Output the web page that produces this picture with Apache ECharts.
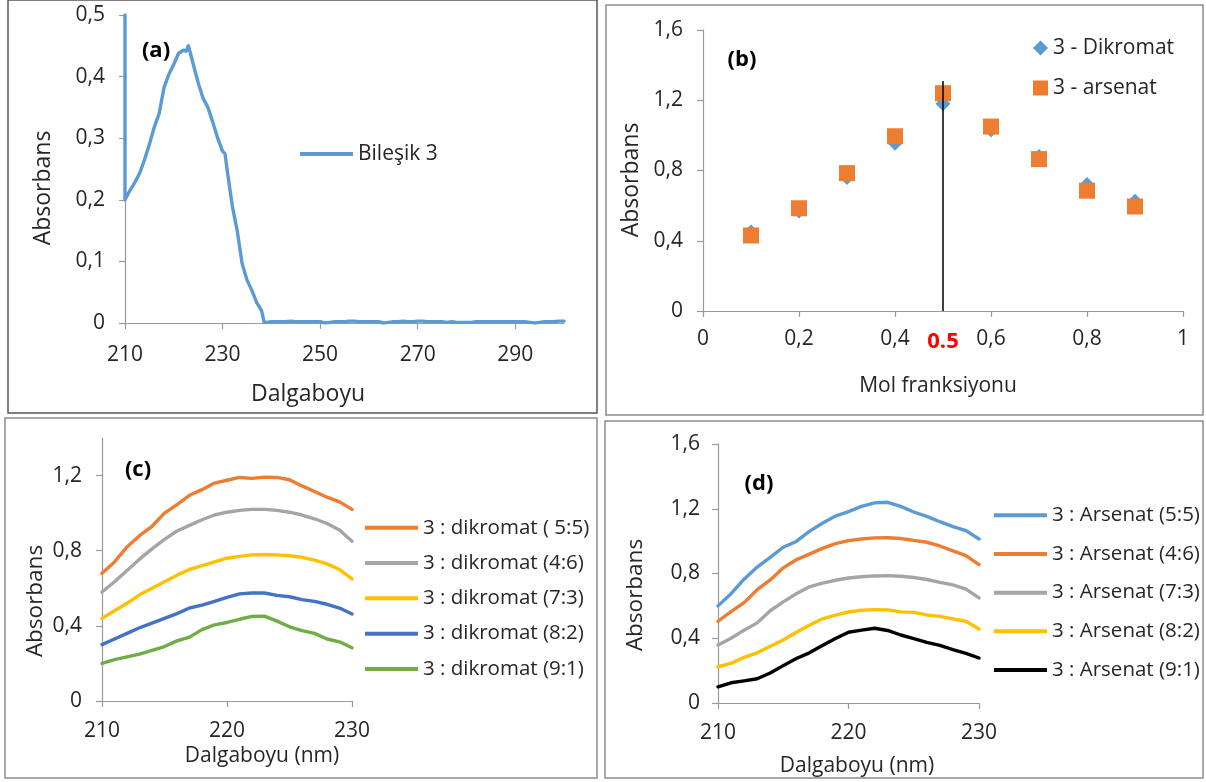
<!DOCTYPE html>
<html>
<head>
<meta charset="utf-8">
<script src="https://cdn.jsdelivr.net/npm/echarts@6/dist/echarts.min.js"></script>
<style>html,body{margin:0;padding:0;background:#fff;}#chart{width:1206px;height:782px;}</style>
</head>
<body>
<div id="chart"></div>
<script>
// ---------- DATA ----------
// Panel (a): spectrum of Bileşik 3
const waveA = [210,210,211,212,213,214,215,216,217,218,219,220,221,222,222.5,223,224,225,226,227,228,229,230,230.5,231,232,233,234,235,236,237,238,238.5,
  239,240,241,242,243,244,245,246,247,248,249,250,251,252,253,254,255,256,257,258,259,260,261,262,263,264,265,266,267,268,269,270,
  271,272,273,274,275,276,277,278,279,280,281,282,283,284,285,286,287,288,289,290,291,292,293,294,295,296,297,298,299,300];
const absA = [0.5,0.2,0.215,0.228,0.243,0.265,0.29,0.318,0.34,0.382,0.404,0.42,0.438,0.443,0.441,0.45,0.42,0.39,0.365,0.35,0.326,0.3,0.279,0.275,0.245,0.19,0.15,0.097,0.07,0.053,0.033,0.02,0.002,
  0.001,0.002,0.002,0.002,0.002,0.003,0.002,0.002,0.002,0.002,0.002,0.002,0.0,0.001,0.002,0.002,0.002,0.003,0.003,0.002,0.002,0.002,0.002,0.002,0.0,0.001,0.002,0.002,0.003,0.002,0.002,0.003,
  0.003,0.002,0.002,0.002,0.002,0.001,0.002,0.001,0.001,0.001,0.001,0.002,0.002,0.002,0.002,0.002,0.002,0.002,0.002,0.002,0.002,0.002,0.001,0.0,0.001,0.002,0.002,0.002,0.003,0.003];
const nameA = 'Bileşik 3';

// Panel (b): Job plot
const molFrac = [0.1,0.2,0.3,0.4,0.5,0.6,0.7,0.8,0.9];
const dikromatB = [0.45,0.57,0.76,0.955,1.18,1.03,0.88,0.72,0.625];
const arsenatB = [0.43,0.585,0.785,0.995,1.24,1.05,0.865,0.685,0.595];
const namesB = ['3 - Dikromat','3 - arsenat'];
const peakFrac = 0.5;
const peakLineTop = 1.31;

// Panels (c), (d): spectra 210-230 nm
const waveCD = [210,211,212,213,214,215,216,217,218,219,220,221,222,223,224,225,226,227,228,229,230];
const c55 = [0.68,0.74,0.82,0.88,0.93,1.0,1.045,1.095,1.125,1.16,1.175,1.19,1.185,1.192,1.19,1.178,1.145,1.115,1.085,1.06,1.02];
const c46 = [0.58,0.635,0.695,0.755,0.81,0.86,0.905,0.935,0.965,0.99,1.005,1.015,1.02,1.02,1.015,1.005,0.99,0.97,0.945,0.91,0.85];
const c73 = [0.44,0.48,0.52,0.565,0.6,0.635,0.67,0.7,0.72,0.74,0.76,0.77,0.778,0.78,0.778,0.773,0.765,0.75,0.73,0.7,0.65];
const c82 = [0.30,0.33,0.36,0.39,0.415,0.44,0.465,0.495,0.51,0.53,0.552,0.57,0.575,0.575,0.562,0.555,0.54,0.53,0.515,0.495,0.463];
const c91 = [0.20,0.22,0.235,0.25,0.27,0.29,0.32,0.34,0.38,0.405,0.418,0.435,0.45,0.452,0.425,0.395,0.375,0.36,0.33,0.315,0.283];
const namesC = ['3 : dikromat ( 5:5)','3 : dikromat (4:6)','3 : dikromat (7:3)','3 : dikromat (8:2)','3 : dikromat (9:1)'];

const d55 = [0.60,0.675,0.765,0.84,0.9,0.962,0.998,1.06,1.11,1.155,1.182,1.215,1.236,1.24,1.215,1.18,1.153,1.12,1.09,1.065,1.013];
const d46 = [0.505,0.565,0.62,0.7,0.76,0.835,0.885,0.92,0.955,0.985,1.003,1.013,1.02,1.021,1.016,1.005,0.993,0.97,0.94,0.91,0.855];
const d73 = [0.358,0.40,0.45,0.495,0.57,0.625,0.675,0.718,0.74,0.758,0.772,0.78,0.785,0.787,0.783,0.775,0.763,0.745,0.73,0.703,0.649];
const d82 = [0.224,0.245,0.282,0.31,0.35,0.389,0.437,0.48,0.52,0.543,0.562,0.573,0.577,0.575,0.563,0.56,0.544,0.535,0.52,0.505,0.457];
const d91 = [0.10,0.125,0.137,0.15,0.185,0.231,0.275,0.31,0.355,0.398,0.437,0.45,0.462,0.448,0.42,0.398,0.375,0.356,0.33,0.307,0.278];
const namesD = ['3 : Arsenat (5:5)','3 : Arsenat (4:6)','3 : Arsenat (7:3)','3 : Arsenat (8:2)','3 : Arsenat (9:1)'];

// ---------- STYLE ----------
const FONT = 'Open Sans';
const TXT = '#262626';
const AXC = '#9a9a9a';
const colC = ['#ED7D31','#A5A5A5','#FFC000','#4472C4','#70AD47'];
const colD = ['#5B9BD5','#ED7D31','#A5A5A5','#FFC000','#000000'];

const pair = (xs, ys) => xs.map((x, i) => [x, ys[i]]);
const fmt = v => String(+(+v).toFixed(2)).replace('.', ',');

function axis(gi, min, max, interval, fs, margin, showMax) {
  return { type:'value', gridIndex:gi, min, max, interval,
    axisLine:{show:true, onZero:false, lineStyle:{color:AXC, width:1.2}},
    axisTick:{show:true, length:6, lineStyle:{color:AXC, width:1.2}},
    splitLine:{show:false},
    axisLabel:{color:TXT, fontFamily:FONT, fontSize:fs, margin, formatter:fmt, showMaxLabel:showMax, showMinLabel:true} };
}
function lineSeries(name, xs, ys, color, ai) {
  return { type:'line', name, xAxisIndex:ai, yAxisIndex:ai, data:pair(xs, ys),
    symbol:'none', showSymbol:false, smooth:false,
    lineStyle:{color, width:3.4, cap:'round', join:'round'}, itemStyle:{color} };
}

const series = [];
series.push(lineSeries(nameA, waveA, absA, '#5B9BD5', 0));
series.push({ type:'scatter', name:namesB[0], xAxisIndex:1, yAxisIndex:1, data:pair(molFrac, dikromatB),
  symbol:'diamond', symbolSize:15, itemStyle:{color:'#5B9BD5', opacity:1} });
series.push({ type:'scatter', name:namesB[1], xAxisIndex:1, yAxisIndex:1, data:pair(molFrac, arsenatB),
  symbol:'rect', symbolSize:16, itemStyle:{color:'#ED7D31', opacity:1},
  markLine:{ silent:true, symbol:'none', animation:false,
    lineStyle:{color:'#000', width:1.5, type:'solid', opacity:1},
    label:{show:true, position:'start', distance:20, formatter:'0.5', color:'#FF0000', fontWeight:'bold', fontFamily:FONT, fontSize:22},
    emphasis:{disabled:true},
    data:[[{coord:[peakFrac, 0]}, {coord:[peakFrac, peakLineTop]}]] } });
[c55,c46,c73,c82,c91].forEach((d, i) => series.push(lineSeries(namesC[i], waveCD, d, colC[i], 2)));
[d55,d46,d73,d82,d91].forEach((d, i) => series.push(lineSeries(namesD[i], waveCD, d, colD[i], 3)));

const legTS = fs => ({color:TXT, fontFamily:FONT, fontSize:fs, lineHeight:fs + 1});

function txt(x, y, text, fs, opts) {
  opts = opts || {};
  return { type:'text', x, y, rotation: opts.rot || 0, silent:true, z:100,
    style:{ text, fill: opts.color || TXT, font: (opts.bold ? 'bold ' : '') + fs + 'px "' + FONT + '"', align:'center', verticalAlign:'middle' } };
}
function box(x1, y1, x2, y2, color) {
  return { type:'rect', shape:{x:x1, y:y1, width:x2 - x1, height:y2 - y1}, silent:true, z:-1,
    style:{fill:'none', stroke:color, lineWidth:1.5} };
}

const option = {
  animation:false,
  backgroundColor:'#fff',
  grid:[
    {left:125, top:15, width:439, height:308, containLabel:false, outerBoundsMode:'none'},
    {left:703, top:30, width:480, height:281, containLabel:false, outerBoundsMode:'none'},
    {left:102, top:438, width:250, height:263, containLabel:false, outerBoundsMode:'none'},
    {left:718, top:444, width:261, height:259, containLabel:false, outerBoundsMode:'none'}
  ],
  xAxis:[ axis(0,210,300,20,21,22,false), axis(1,0,1,0.2,21,18,true), axis(2,210,230,10,21,20,true), axis(3,210,230,10,21,20,true) ],
  yAxis:[ axis(0,0,0.5,0.1,21,20,true), axis(1,0,1.6,0.4,21,20,true), axis(2,0,1.4,0.4,21,20,false), axis(3,0,1.6,0.4,21,18,true) ],
  legend:[
    {data:[nameA], orient:'vertical', left:295, top:138, icon:'rect', itemWidth:53, itemHeight:4, itemGap:10, textStyle:legTS(21), selectedMode:false},
    {data:namesB, orient:'vertical', left:1028, top:32, itemWidth:15, itemHeight:15, itemGap:18, textStyle:legTS(21), selectedMode:false},
    {data:namesC, orient:'vertical', left:360, top:512, icon:'rect', itemWidth:53, itemHeight:4, itemGap:13.8, textStyle:legTS(20.5), selectedMode:false},
    {data:namesD, orient:'vertical', left:989, top:499.5, icon:'rect', itemWidth:53, itemHeight:4, itemGap:17.2, textStyle:legTS(20.5), selectedMode:false}
  ],
  series,
  graphic:[
    box(8, 0, 597, 413, '#555'),
    box(606, 5, 1203, 415, '#8c8c8c'),
    box(5, 418, 597, 778, '#8c8c8c'),
    box(605, 421, 1203, 778, '#8c8c8c'),
    txt(156, 51, '(a)', 22, {bold:true, color:'#000'}),
    txt(742, 60, '(b)', 22, {bold:true, color:'#000'}),
    txt(138, 470, '(c)', 22, {bold:true, color:'#000'}),
    txt(759, 484, '(d)', 22, {bold:true, color:'#000'}),
    txt(43, 188, 'Absorbans', 23, {rot:Math.PI/2}),
    txt(308, 394, 'Dalgaboyu', 23),
    txt(631, 180, 'Absorbans', 23, {rot:Math.PI/2}),
    txt(938, 386, 'Mol franksiyonu', 21),
    txt(36, 601, 'Absorbans', 22.5, {rot:Math.PI/2}),
    txt(262, 756, 'Dalgaboyu (nm)', 21),
    txt(636, 595, 'Absorbans', 22.5, {rot:Math.PI/2}),
    txt(857, 766, 'Dalgaboyu (nm)', 21)
  ]
};

const chart = echarts.init(document.getElementById('chart'), null, {renderer:'canvas'});
chart.setOption(option);
</script>
</body>
</html>
